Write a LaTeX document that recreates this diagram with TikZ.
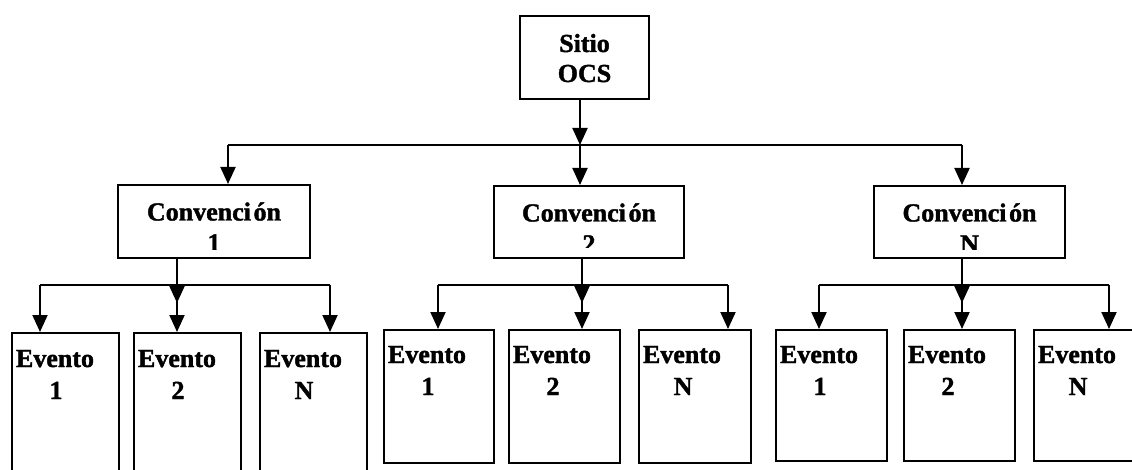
\documentclass[tikz,border=0pt]{standalone}
\usepackage{fontspec}
\setmainfont{Liberation Serif}[BoldFeatures={FakeBold=1.5}]
\usetikzlibrary{arrows.meta}
\begin{document}
\begin{tikzpicture}[x=1pt,y=-1pt,line width=2pt,
  box/.style={draw,rectangle,inner sep=0pt,anchor=north west},
  lbl/.style={font=\bfseries\fontsize{26}{30}\selectfont,inner sep=0pt,anchor=base},
  arr/.style={-{Triangle[length=17pt,width=15pt]}}]
\clip (0,0) rectangle (1132,470);
\useasboundingbox (0,0) rectangle (1132,470);

% top node
\node[box,minimum width=129pt,minimum height=83pt] (sitio) at (519,15) {};
\node[lbl] (sitio-a) at ([yshift=-37pt]sitio.north) {Sitio};
\node[lbl] (sitio-b) at ([yshift=-67pt]sitio.north) {OCS};

% second level
\node[box,minimum width=192pt,minimum height=73pt] (c1) at (117,184) {};
\node[box,minimum width=190pt,minimum height=72pt] (c2) at (493,185) {};
\node[box,minimum width=191pt,minimum height=72pt] (cn) at (873,185) {};
\foreach \c/\k/\cut in {c1/1/9,c2/2/11,cn/N/9.5}{
  \node[lbl] (\c-a) at ([yshift=-36.5pt]\c.north) {Convenci\kern0.1em ón};
  \begin{scope}
    \clip (\c.north west) rectangle ([yshift=\cut pt]\c.south east);
    \node[lbl] (\c-b) at ([yshift=-67.5pt]\c.north) {\k};
  \end{scope}
}

% third level
\foreach \n/\x/\y/\w/\h/\dy/\k in {
  e11/11/332/107/160/35/1, e12/133/332/107/160/35/2, e1n/259/332/107/160/35/N,
  e21/383/329/110/133/34/1, e22/508/329/111/133/34/2, e2n/638/329/112/133/34/N,
  e31/775/329/111/131/34/1, e32/903/329/111/131/34/2, e3n/1033/329/111/131/34/N}{
  \node[box,minimum width=\w pt,minimum height=\h pt] (\n) at (\x,\y) {};
  \node[lbl,anchor=base west] (\n-a) at ([shift={(4,\dy)}]\n.north west) {Evento};
  \node[lbl] (\n-b) at ([shift={(45,\dy+32)}]\n.north west) {\k};
}

% connectors: top to second level
\coordinate (tb) at (580,145);
\coordinate (tl) at (228,145);
\coordinate (tr) at (962,145);
\draw[arr] (sitio.south -| tb) -- (tb);
\draw (tl) -- (tr);
\draw[arr] (tl) -- (tl |- c1.north);
\draw[arr] (tb) -- (tb |- c2.north);
\draw[arr] (tr) -- (tr |- cn.north);

% connectors: second level to events
\foreach \c/\r/\l/\m/\rr in {c1/1/40/177/330, c2/2/438/582/728, cn/3/819/962/1109}{
  \coordinate (b\r l) at (\l,285);
  \coordinate (b\r m) at (\m,285);
  \coordinate (b\r r) at (\rr,285);
  \draw (b\r l) -- (b\r r);
  \draw[arr] (\c.south -| b\r m) -- ([yshift=-18pt]b\r m);
}
\draw[arr] (b1l) -- (b1l |- e11.north);
\draw[arr] (b1m) -- (b1m |- e12.north);
\draw[arr] (b1r) -- (b1r |- e1n.north);
\draw[arr] (b2l) -- (b2l |- e21.north);
\draw[arr] (b2m) -- (b2m |- e22.north);
\draw[arr] (b2r) -- (b2r |- e2n.north);
\draw[arr] (b3l) -- (b3l |- e31.north);
\draw[arr] (b3m) -- (b3m |- e32.north);
\draw[arr] (b3r) -- (b3r |- e3n.north);
\end{tikzpicture}
\end{document}
